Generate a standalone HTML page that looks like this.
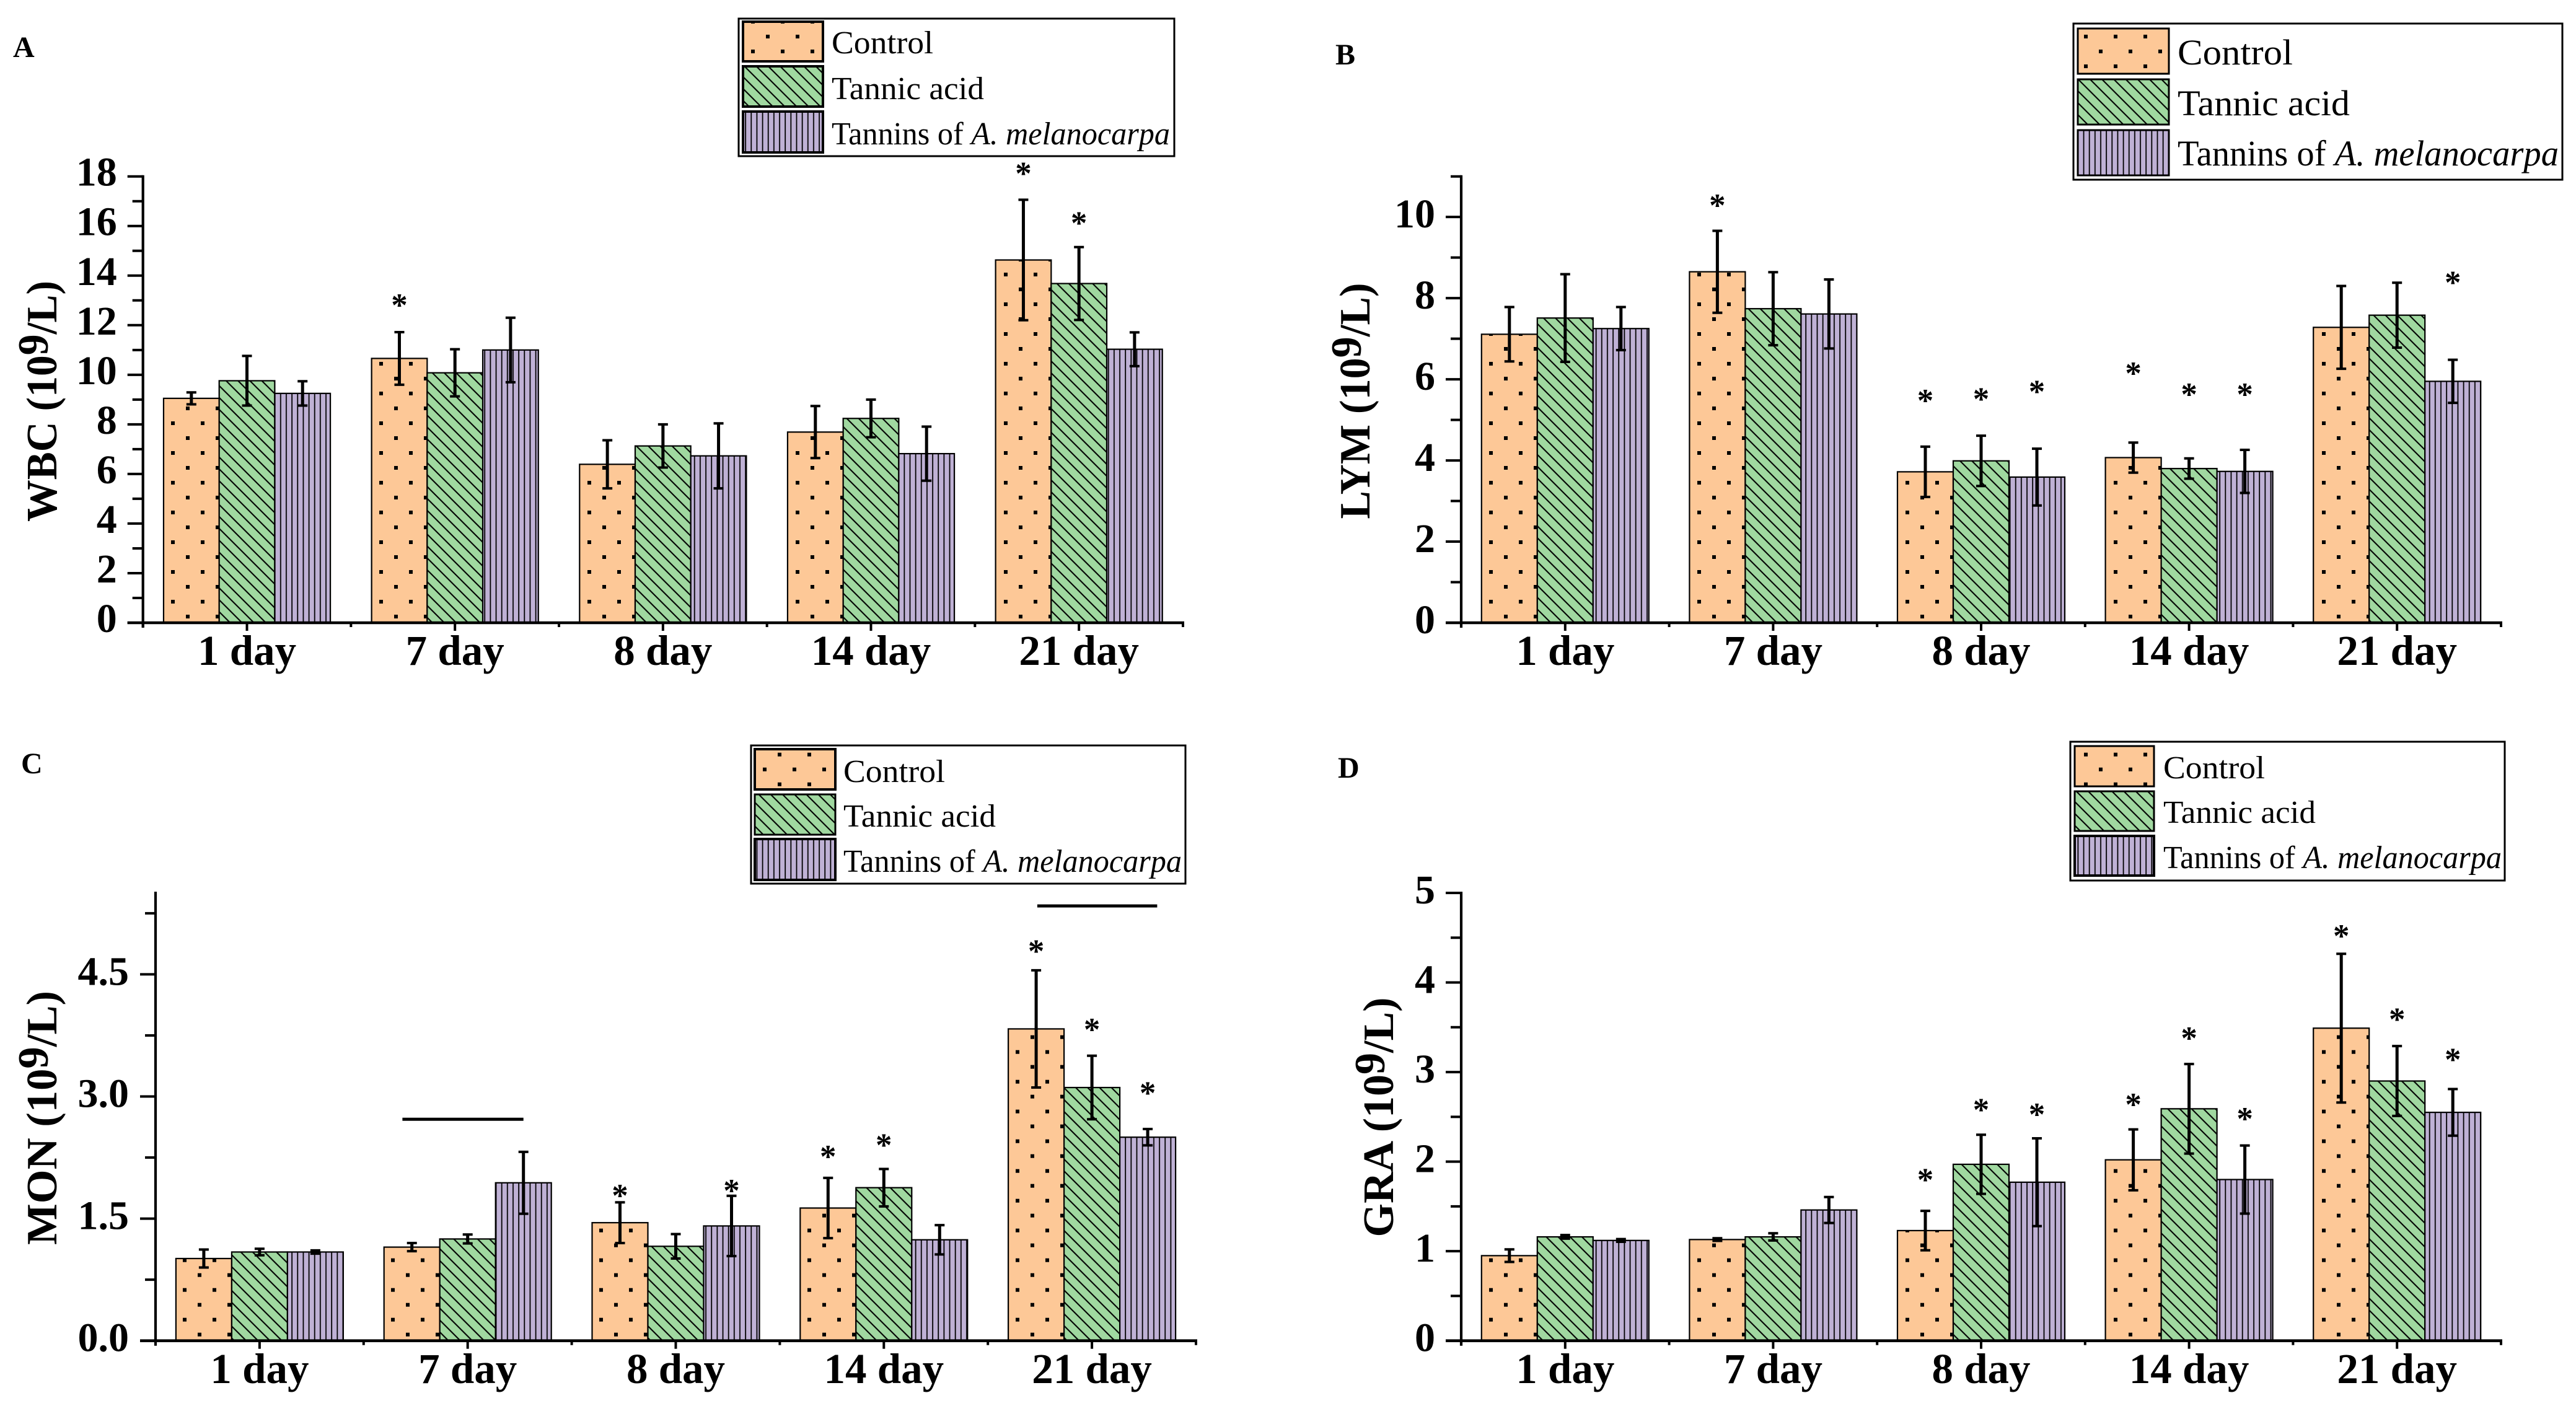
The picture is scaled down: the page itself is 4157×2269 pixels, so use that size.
<!DOCTYPE html>
<html lang="en">
<head>
<meta charset="utf-8">
<title>Blood cell counts by treatment and day</title>
<style>
html,body{margin:0;padding:0;background:#fff;}
svg{display:block;}
text{font-family:"Liberation Serif",serif;fill:#000;}
.leg{font-size:52px;}
.legb{font-size:58px;}
.pl{font-size:48px;font-weight:bold;}
.yt{font-size:70px;font-weight:bold;}
</style>
</head>
<body>
<svg id="figure" xmlns="http://www.w3.org/2000/svg" width="4157" height="2269" viewBox="0 0 4157 2269">
<defs>
<pattern id="dotsA" patternUnits="userSpaceOnUse" width="48" height="48" patternTransform="translate(264 1005)"><rect width="48" height="48" fill="#FDC897"/><rect x="12" y="11" width="6" height="6" fill="#000"/><rect x="36" y="35" width="6" height="6" fill="#000"/></pattern>
<pattern id="dotsB" patternUnits="userSpaceOnUse" width="48" height="48" patternTransform="translate(2391 1005)"><rect width="48" height="48" fill="#FDC897"/><rect x="12" y="11" width="6" height="6" fill="#000"/><rect x="36" y="35" width="6" height="6" fill="#000"/></pattern>
<pattern id="dotsC" patternUnits="userSpaceOnUse" width="48" height="48" patternTransform="translate(283 2163.7)"><rect width="48" height="48" fill="#FDC897"/><rect x="12" y="11" width="6" height="6" fill="#000"/><rect x="36" y="35" width="6" height="6" fill="#000"/></pattern>
<pattern id="dotsD" patternUnits="userSpaceOnUse" width="48" height="48" patternTransform="translate(2391 2163.7)"><rect width="48" height="48" fill="#FDC897"/><rect x="12" y="11" width="6" height="6" fill="#000"/><rect x="36" y="35" width="6" height="6" fill="#000"/></pattern>
<pattern id="hatch" patternUnits="userSpaceOnUse" width="19.2" height="19.2"><rect width="19.2" height="19.2" fill="#A0D8A0"/><path d="M-2-2L21.2 21.2M-2 17.2L2 21.2M17.2-2L21.2 2" stroke="#000" stroke-width="2.1" fill="none"/></pattern>
<pattern id="vert" patternUnits="userSpaceOnUse" width="9.15" height="20"><rect width="9.15" height="20" fill="#BFB1D5"/><rect x="3.6" y="0" width="1.8" height="20" fill="#000"/></pattern>
</defs>

<g id="panel-a-static">
  <text class="pl" x="21" y="92">A</text>
  <text class="yt" transform="translate(91 647.5) rotate(-90)" text-anchor="middle" textLength="389" lengthAdjust="spacingAndGlyphs">WBC (10<tspan dy="-14">9</tspan><tspan dy="14">/L)</tspan></text>
  <g>
    <rect x="1192" y="30" width="703" height="222" fill="#fff" stroke="#000" stroke-width="3"/>
    <rect x="1199" y="35" width="129" height="64" fill="url(#dotsA)" stroke="#000" stroke-width="4"/>
    <rect x="1199" y="107" width="129" height="65" fill="url(#hatch)" stroke="#000" stroke-width="4"/>
    <rect x="1199" y="180" width="129" height="66" fill="url(#vert)" stroke="#000" stroke-width="4"/>
    <text class="leg" x="1342" y="86" textLength="164" lengthAdjust="spacingAndGlyphs">Control</text>
    <text class="leg" x="1342" y="160" textLength="246" lengthAdjust="spacingAndGlyphs">Tannic acid</text>
    <text class="leg" x="1342" y="233" textLength="546" lengthAdjust="spacingAndGlyphs">Tannins of <tspan font-style="italic">A. melanocarpa</tspan></text>
  </g>
</g>

<g id="panel-b-static">
  <text class="pl" x="2155" y="104">B</text>
  <text class="yt" transform="translate(2210 647) rotate(-90)" text-anchor="middle" textLength="381" lengthAdjust="spacingAndGlyphs">LYM (10<tspan dy="-14">9</tspan><tspan dy="14">/L)</tspan></text>
  <g>
    <rect x="3346" y="38" width="789" height="252" fill="#fff" stroke="#000" stroke-width="3"/>
    <rect x="3353" y="46" width="147" height="73" fill="url(#dotsB)" stroke="#000" stroke-width="3"/>
    <rect x="3353" y="128" width="147" height="73" fill="url(#hatch)" stroke="#000" stroke-width="3"/>
    <rect x="3353" y="210" width="147" height="73" fill="url(#vert)" stroke="#000" stroke-width="3"/>
    <text class="legb" x="3514" y="104" textLength="186" lengthAdjust="spacingAndGlyphs">Control</text>
    <text class="legb" x="3514" y="186" textLength="278" lengthAdjust="spacingAndGlyphs">Tannic acid</text>
    <text class="legb" x="3514" y="267" textLength="615" lengthAdjust="spacingAndGlyphs">Tannins of <tspan font-style="italic">A. melanocarpa</tspan></text>
  </g>
</g>

<g id="panel-c-static">
  <text class="pl" x="34" y="1248">C</text>
  <text class="yt" transform="translate(91 1804) rotate(-90)" text-anchor="middle" textLength="410" lengthAdjust="spacingAndGlyphs">MON (10<tspan dy="-14">9</tspan><tspan dy="14">/L)</tspan></text>
  <g>
    <rect x="1212" y="1203" width="701" height="223" fill="#fff" stroke="#000" stroke-width="3"/>
    <rect x="1218" y="1209" width="130" height="65" fill="url(#dotsC)" stroke="#000" stroke-width="4"/>
    <rect x="1218" y="1282" width="130" height="65" fill="url(#hatch)" stroke="#000" stroke-width="3"/>
    <rect x="1218" y="1354" width="130" height="66" fill="url(#vert)" stroke="#000" stroke-width="4"/>
    <text class="leg" x="1361" y="1262" textLength="164" lengthAdjust="spacingAndGlyphs">Control</text>
    <text class="leg" x="1361" y="1334" textLength="246" lengthAdjust="spacingAndGlyphs">Tannic acid</text>
    <text class="leg" x="1361" y="1407" textLength="546" lengthAdjust="spacingAndGlyphs">Tannins of <tspan font-style="italic">A. melanocarpa</tspan></text>
  </g>
</g>

<g id="panel-d-static">
  <text class="pl" x="2159" y="1255">D</text>
  <text class="yt" transform="translate(2248 1803) rotate(-90)" text-anchor="middle" textLength="387" lengthAdjust="spacingAndGlyphs">GRA (10<tspan dy="-14">9</tspan><tspan dy="14">/L)</tspan></text>
  <g>
    <rect x="3341" y="1197" width="701" height="224" fill="#fff" stroke="#000" stroke-width="3"/>
    <rect x="3348" y="1204" width="128" height="65" fill="url(#dotsD)" stroke="#000" stroke-width="3"/>
    <rect x="3348" y="1277" width="128" height="64" fill="url(#hatch)" stroke="#000" stroke-width="3"/>
    <rect x="3348" y="1349" width="128" height="64" fill="url(#vert)" stroke="#000" stroke-width="4"/>
    <text class="leg" x="3491" y="1256" textLength="164" lengthAdjust="spacingAndGlyphs">Control</text>
    <text class="leg" x="3491" y="1328" textLength="246" lengthAdjust="spacingAndGlyphs">Tannic acid</text>
    <text class="leg" x="3491" y="1401" textLength="546" lengthAdjust="spacingAndGlyphs">Tannins of <tspan font-style="italic">A. melanocarpa</tspan></text>
  </g>
</g>
</svg>

<script>
const days = ['1 day', '7 day', '8 day', '14 day', '21 day'];

const wbcControl = [9.05, 10.66, 6.39, 7.69, 14.63];
const wbcTannic = [9.76, 10.08, 7.13, 8.24, 13.68];
const wbcTannins = [9.25, 11.0, 6.73, 6.82, 11.03];
const wbcControlErr = [0.24, 1.06, 0.97, 1.05, 2.43];
const wbcTannicErr = [1.0, 0.95, 0.87, 0.76, 1.47];
const wbcTanninsErr = [0.49, 1.3, 1.31, 1.09, 0.68];
const wbcTicks = [0, 2, 4, 6, 8, 10, 12, 14, 16, 18];
const wbcStarDay = [1, 4, 4];
const wbcStarSeries = [0, 0, 1];
const wbcStarValue = [13.0, 18.3, 16.3];

const lymControl = [7.11, 8.65, 3.72, 4.07, 7.28];
const lymTannic = [7.51, 7.74, 3.99, 3.8, 7.58];
const lymTannins = [7.25, 7.61, 3.59, 3.73, 5.95];
const lymControlErr = [0.67, 1.01, 0.62, 0.37, 1.02];
const lymTannicErr = [1.08, 0.9, 0.62, 0.25, 0.8];
const lymTanninsErr = [0.53, 0.85, 0.7, 0.53, 0.53];
const lymTicks = [0, 2, 4, 6, 8, 10];
const lymStarDay = [1, 2, 2, 2, 3, 3, 3, 4];
const lymStarSeries = [0, 0, 1, 2, 0, 1, 2, 2];
const lymStarValue = [10.4, 5.59, 5.63, 5.81, 6.26, 5.74, 5.74, 8.5];

const monControl = [1.01, 1.15, 1.45, 1.63, 3.83];
const monTannic = [1.09, 1.25, 1.16, 1.88, 3.11];
const monTannins = [1.09, 1.94, 1.41, 1.24, 2.5];
const monControlErr = [0.11, 0.05, 0.25, 0.37, 0.72];
const monTannicErr = [0.04, 0.055, 0.15, 0.23, 0.39];
const monTanninsErr = [0.02, 0.38, 0.37, 0.18, 0.1];
const monTicks = ['0.0', '1.5', '3.0', '4.5'];
const monStarDay = [2, 2, 3, 3, 4, 4, 4];
const monStarSeries = [0, 2, 0, 1, 0, 1, 2];
const monStarValue = [1.84, 1.9, 2.32, 2.46, 4.84, 3.88, 3.1];
const monBracketDay = [1, 4];
const monBracketValue = [2.72, 5.34];
const monBracketStart = [-1.17, -0.98];
const monBracketEnd = [1.0, 1.17];

const graControl = [0.95, 1.13, 1.23, 2.02, 3.49];
const graTannic = [1.16, 1.16, 1.97, 2.59, 2.9];
const graTannins = [1.12, 1.46, 1.77, 1.8, 2.55];
const graControlErr = [0.07, 0.015, 0.22, 0.34, 0.83];
const graTannicErr = [0.02, 0.04, 0.33, 0.5, 0.39];
const graTanninsErr = [0.015, 0.145, 0.49, 0.38, 0.26];
const graTicks = [0, 1, 2, 3, 4, 5];
const graStarDay = [2, 2, 2, 3, 3, 3, 4, 4, 4];
const graStarSeries = [0, 1, 2, 0, 1, 2, 0, 1, 2];
const graStarValue = [1.85, 2.63, 2.58, 2.69, 3.43, 2.53, 4.57, 3.64, 3.19];

const svgNS = 'http://www.w3.org/2000/svg';
const fig = document.getElementById('figure');

function line(parent, x1, y1, x2, y2, w) {
  const l = document.createElementNS(svgNS, 'line');
  l.setAttribute('x1', x1);
  l.setAttribute('y1', y1);
  l.setAttribute('x2', x2);
  l.setAttribute('y2', y2);
  l.setAttribute('stroke', '#000');
  l.setAttribute('stroke-width', w);
  parent.appendChild(l);
  return l;
}

function drawPanel(p) {
  const yOf = v => p.base - (v - 0) * (p.base - p.top) / p.max;
  const groupW = (p.xEnd - p.x0) / days.length;
  const center = g => p.x0 + (g + 0.5) * groupW;
  const xOf = (g, s) => center(g) + (s - 1) * p.barW;

  const root = document.createElementNS(svgNS, 'g');
  
  
  fig.appendChild(root);

  const fills = ['url(#dots' + p.letter + ')', 'url(#hatch)', 'url(#vert)'];
  const seriesNames = ['control', 'tannic-acid', 'tannins'];

  p.values.forEach((vals, s) => {
    vals.forEach((v, g) => {
      const bar = document.createElementNS(svgNS, 'rect');
      bar.setAttribute('x', xOf(g, s) - p.barW / 2);
      bar.setAttribute('y', yOf(v));
      bar.setAttribute('width', p.barW);
      bar.setAttribute('height', p.base - yOf(v));
      bar.setAttribute('fill', fills[s]);
      bar.setAttribute('stroke', '#000');
      bar.setAttribute('stroke-width', '2.2');
      
      
      root.appendChild(bar);
    });
  });

  p.values.forEach((vals, s) => {
    vals.forEach((v, g) => {
      const e = p.errors[s][g];
      const eb = document.createElementNS(svgNS, 'g');
      
      
      root.appendChild(eb);
      const x = xOf(g, s);
      line(eb, x, yOf(v + e), x, yOf(v - e), 5);
      line(eb, x - 8, yOf(v + e), x + 8, yOf(v + e), 4);
      line(eb, x - 8, yOf(v - e), x + 8, yOf(v - e), 4);
    });
  });

  const yAxis = document.createElementNS(svgNS, 'g');
  
  
  root.appendChild(yAxis);
  line(yAxis, p.x0, p.top - 2, p.x0, p.base + 8, 4.2);
  for (let i = 0; i * p.minor <= p.max + 1e-6; i++) {
    const v = i * p.minor;
    const isMajor = i % 2 === 0;
    line(yAxis, p.x0 - (isMajor ? 25 : 17), yOf(v), p.x0, yOf(v), 4);
  }
  p.ticks.forEach(t => {
    const lab = document.createElementNS(svgNS, 'text');
    lab.setAttribute('x', p.x0 - p.labelGap);
    lab.setAttribute('y', yOf(parseFloat(t)) + p.labelDy);
    lab.setAttribute('text-anchor', 'end');
    lab.setAttribute('font-size', '66');
    lab.setAttribute('font-weight', 'bold');
    
    
    lab.textContent = t;
    yAxis.appendChild(lab);
  });

  const xAxis = document.createElementNS(svgNS, 'g');
  
  
  root.appendChild(xAxis);
  line(xAxis, p.x0 - 25, p.base, p.xEnd + 2, p.base, 4.6);
  days.forEach((d, g) => {
    line(xAxis, center(g), p.base, center(g), p.base + 13, 4);
    line(xAxis, p.x0 + g * groupW, p.base, p.x0 + g * groupW, p.base + 7, 4);
    const lab = document.createElementNS(svgNS, 'text');
    lab.setAttribute('x', center(g));
    lab.setAttribute('y', p.labelY);
    lab.setAttribute('text-anchor', 'middle');
    lab.setAttribute('font-size', '69');
    lab.setAttribute('font-weight', 'bold');
    
    
    lab.textContent = d;
    xAxis.appendChild(lab);
  });
  line(xAxis, p.xEnd, p.base, p.xEnd, p.base + 7, 4);

  p.starDay.forEach((g, i) => {
    const star = document.createElementNS(svgNS, 'text');
    star.setAttribute('x', xOf(g, p.starSeries[i]));
    star.setAttribute('y', yOf(p.starValue[i]) + 25);
    star.setAttribute('text-anchor', 'middle');
    star.setAttribute('font-size', '53');
    star.setAttribute('font-weight', 'bold');
    
    
    star.textContent = '*';
    root.appendChild(star);
  });

  (p.bracketDay || []).forEach((g, i) => {
    const y = yOf(p.bracketValue[i]);
    const b = line(root, center(g) + p.bracketStart[i] * p.barW, y, center(g) + p.bracketEnd[i] * p.barW, y, 5);
    
    
  });
}

drawPanel({
  key: 'wbc', letter: 'A', x0: 230.7, xEnd: 1909, base: 1005, top: 284.7, max: 18, minor: 1, barW: 89.7,
  labelGap: 42, labelDy: 15, labelY: 1073,
  ticks: wbcTicks.map(String),
  values: [wbcControl, wbcTannic, wbcTannins],
  errors: [wbcControlErr, wbcTannicErr, wbcTanninsErr],
  starDay: wbcStarDay, starSeries: wbcStarSeries, starValue: wbcStarValue
});
drawPanel({
  key: 'lym', letter: 'B', x0: 2358, xEnd: 4036, base: 1005, top: 284.7, max: 11, minor: 1, barW: 90,
  labelGap: 42, labelDy: 17, labelY: 1073,
  ticks: lymTicks.map(String),
  values: [lymControl, lymTannic, lymTannins],
  errors: [lymControlErr, lymTannicErr, lymTanninsErr],
  starDay: lymStarDay, starSeries: lymStarSeries, starValue: lymStarValue
});
drawPanel({
  key: 'mon', letter: 'C', x0: 251, xEnd: 1930, base: 2163.7, top: 1441, max: 5.5, minor: 0.75, barW: 90,
  labelGap: 43, labelDy: 17, labelY: 2232,
  ticks: monTicks,
  values: [monControl, monTannic, monTannins],
  errors: [monControlErr, monTannicErr, monTanninsErr],
  starDay: monStarDay, starSeries: monStarSeries, starValue: monStarValue,
  bracketDay: monBracketDay, bracketValue: monBracketValue,
  bracketStart: monBracketStart, bracketEnd: monBracketEnd
});
drawPanel({
  key: 'gra', letter: 'D', x0: 2358, xEnd: 4036, base: 2163.7, top: 1441, max: 5, minor: 0.5, barW: 90,
  labelGap: 42, labelDy: 17, labelY: 2232,
  ticks: graTicks.map(String),
  values: [graControl, graTannic, graTannins],
  errors: [graControlErr, graTannicErr, graTanninsErr],
  starDay: graStarDay, starSeries: graStarSeries, starValue: graStarValue
});
</script>
</body>
</html>
